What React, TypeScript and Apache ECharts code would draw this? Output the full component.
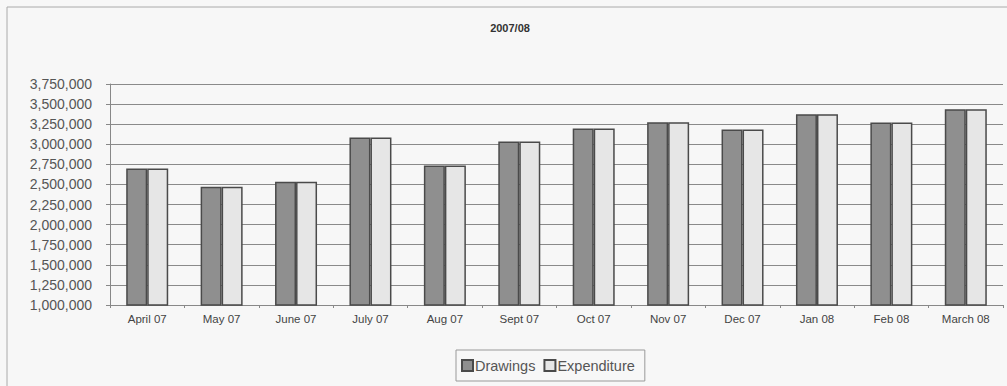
import React, { useEffect, useRef } from "react";
import * as echarts from "echarts";

const categories = ["April 07", "May 07", "June 07", "July 07", "Aug 07", "Sept 07", "Oct 07", "Nov 07", "Dec 07", "Jan 08", "Feb 08", "March 08"];
const drawings = [2700000, 2470000, 2535000, 3085000, 2735000, 3035000, 3195000, 3275000, 3185000, 3375000, 3270000, 3435000];
const expenditure = [2700000, 2470000, 2535000, 3085000, 2735000, 3035000, 3195000, 3275000, 3185000, 3375000, 3270000, 3435000];
const title = "2007/08";

export default function App() {
  const ref = useRef<HTMLDivElement>(null);
  useEffect(() => {
    const chart = echarts.init(ref.current!, null, { renderer: "svg" });
    const barStyle = (fill: string) => ({ color: fill, borderColor: "#4a4a4a", borderWidth: 1.5 });
    chart.setOption({
      animation: false,
      backgroundColor: "#f7f7f7",
      title: {
        text: title,
        left: 505,
        textAlign: "center",
        top: 17,
        textStyle: { fontFamily: "Arial, Liberation Sans", fontSize: 11, fontWeight: "bold", color: "#333" },
      },
      graphic: [
        {
          type: "rect",
          shape: { x: 7, y: 7, width: 1010, height: 400 },
          style: { fill: "none", stroke: "#aaa", lineWidth: 1 },
          silent: true,
        },
      ],
      grid: { left: 110, right: 4, top: 84, bottom: 81 },
      legend: {
        data: ["Drawings", "Expenditure"],
        left: 456,
        top: 350,
        itemWidth: 11,
        itemHeight: 11,
        itemGap: 8,
        padding: [8, 10, 8, 5],
        borderColor: "#999",
        borderWidth: 1,
        icon: "rect",
        textStyle: { fontFamily: "Arial, Liberation Sans", fontSize: 14.5, color: "#555", padding: [0, 0, 0, -3] },
      },
      xAxis: {
        type: "category",
        data: categories,
        axisLine: { lineStyle: { color: "#888" } },
        axisTick: { show: true, length: 3, lineStyle: { color: "#888" } },
        axisLabel: { fontFamily: "Arial, Liberation Sans", fontSize: 11.5, color: "#444", margin: 8 },
      },
      yAxis: {
        type: "value",
        min: 1000000,
        max: 3750000,
        interval: 250000,
        axisLine: { show: true, lineStyle: { color: "#888" } },
        axisTick: { show: true, length: 4, lineStyle: { color: "#888" } },
        splitLine: { lineStyle: { color: "#8a8a8a", width: 1 } },
        axisLabel: {
          fontFamily: "Arial, Liberation Sans",
          fontSize: 14,
          color: "#555",
          margin: 18,
          formatter: (v: number) => v.toLocaleString("en-US"),
        },
      },
      series: [
        {
          name: "Drawings",
          type: "bar",
          data: drawings,
          barWidth: 21,
          barGap: "0%",
          itemStyle: barStyle("#8f8f8f"),
        },
        {
          name: "Expenditure",
          type: "bar",
          data: expenditure,
          barWidth: 21,
          barGap: "0%",
          itemStyle: barStyle("#e6e6e6"),
        },
      ],
    });
    return () => chart.dispose();
  }, []);
  return <div ref={ref} style={{ position: "fixed", left: 0, top: 0, width: 1007, height: 386 }} />;
}
